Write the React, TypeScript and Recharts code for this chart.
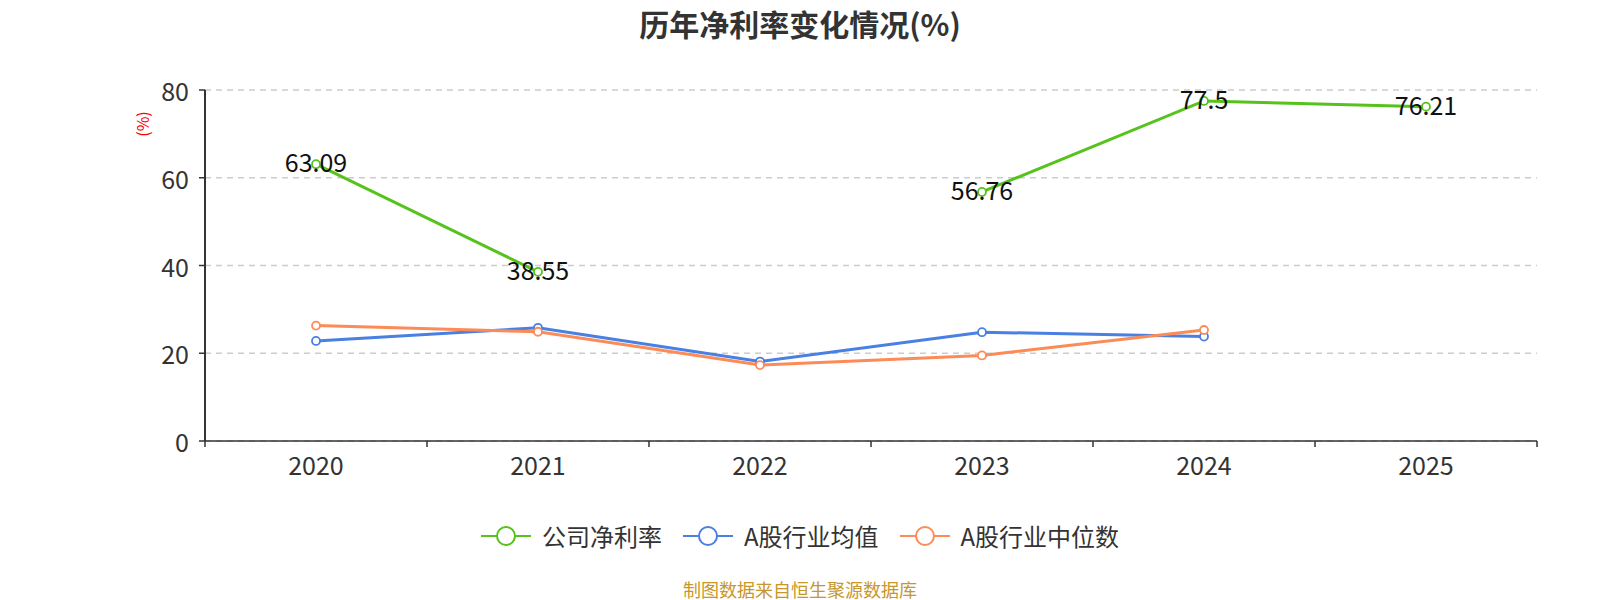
import React from 'react';
import { LineChart, Line, XAxis, YAxis, CartesianGrid, LabelList } from 'recharts';

const years = ['2020', '2021', '2022', '2023', '2024', '2025'];
const companyMargin: (number | null)[] = [63.09, 38.55, null, 56.76, 77.5, 76.21];
const industryAvg: (number | null)[] = [22.8, 25.8, 18.1, 24.8, 23.8, null];
const industryMedian: (number | null)[] = [26.3, 24.9, 17.3, 19.5, 25.3, null];
const yTicks = [0, 20, 40, 60, 80];

const seriesNames = ['公司净利率', 'A股行业均值', 'A股行业中位数'];
const seriesColors = ['#56c21c', '#4a7fe3', '#fc8b57'];

const data = years.map((y, i) => ({
  year: y,
  company: companyMargin[i],
  avg: industryAvg[i],
  median: industryMedian[i],
}));

const FONT = '"Noto Sans CJK SC", "Noto Sans", sans-serif';
const CHART_W = 1584;
const CHART_H = 584;
const MARGIN = { top: 82, right: 55, left: 137, bottom: 111 };
const Y_AXIS_W = 60;
const PLOT_W = CHART_W - MARGIN.left - MARGIN.right - Y_AXIS_W;
const HALF_BAND = PLOT_W / years.length / 2;

const XTick = (props: any) => {
  const { x, y, payload, index, visibleTicksCount } = props;
  const axisY = y - 18;
  return (
    <g>
      <line x1={x - HALF_BAND} x2={x - HALF_BAND} y1={axisY} y2={axisY + 6} stroke="#333" strokeWidth={1.5} />
      {index === visibleTicksCount - 1 && (
        <line x1={x + HALF_BAND} x2={x + HALF_BAND} y1={axisY} y2={axisY + 6} stroke="#333" strokeWidth={1.5} />
      )}
      <text x={x} y={y + 5} textAnchor="middle" dominantBaseline="central" fontSize={25} fill="#333" fontFamily={FONT}>
        {payload.value}
      </text>
    </g>
  );
};

const YTick = (props: any) => {
  const { x, y, payload } = props;
  return (
    <text x={x} y={y} textAnchor="end" dominantBaseline="central" fontSize={25} fill="#333" fontFamily={FONT}>
      {payload.value}
    </text>
  );
};

const ValueLabel = (props: any) => {
  const { x, y, value } = props;
  if (value === null || value === undefined) return null;
  return (
    <text x={x} y={y - 3} textAnchor="middle" dominantBaseline="central" fontSize={25} fill="#111" fontFamily={FONT}>
      {value}
    </text>
  );
};

const YLabel = (props: any) => {
  const { viewBox } = props;
  const cx = viewBox.x - 3;
  const cy = viewBox.y + 34;
  return (
    <text x={cx} y={cy} transform={`rotate(-90 ${cx} ${cy})`} textAnchor="middle" dominantBaseline="central" fontSize={16} fill="#ff0000" fontFamily={FONT}>
      (%)
    </text>
  );
};

const LegendIcon = ({ color }: { color: string }) => (
  <svg width={50} height={24} style={{ display: 'block' }}>
    <line x1={0} x2={50} y1={12} y2={12} stroke={color} strokeWidth={2} />
    <circle cx={25} cy={12} r={9} fill="#fff" stroke={color} strokeWidth={2} />
  </svg>
);

export default function App() {
  const keys = ['company', 'avg', 'median'];
  return (
    <div style={{ position: 'relative', width: CHART_W, height: 592, fontFamily: FONT, background: '#fff' }}>
      <style>{'html, body { overflow: hidden; }'}</style>
      <div
        style={{
          position: 'absolute', top: 0, left: 0, width: CHART_W, textAlign: 'center',
          fontSize: 30, fontWeight: 'bold', color: '#333', lineHeight: '30px',
        }}
      >
        历年净利率变化情况(%)
      </div>
      <LineChart width={CHART_W} height={CHART_H} data={data} margin={MARGIN}>
        <CartesianGrid vertical={false} stroke="#cccccc" strokeDasharray="6 5" strokeWidth={1.3} />
        <XAxis
          dataKey="year"
          height={40}
          axisLine={{ stroke: '#333', strokeWidth: 1.5 }}
          tickLine={false}
          tickSize={6}
          tickMargin={12}
          tick={<XTick />}
          interval={0}
          padding={{ left: HALF_BAND, right: HALF_BAND }}
        />
        <YAxis
          width={Y_AXIS_W}
          domain={[0, 80]}
          ticks={yTicks}
          axisLine={{ stroke: '#333', strokeWidth: 2 }}
          tickLine={{ stroke: '#333', strokeWidth: 1.5 }}
          tickSize={6}
          tickMargin={10}
          tick={<YTick />}
          label={<YLabel />}
        />
        {keys.map((k, i) => (
          <Line
            key={k}
            dataKey={k}
            type="linear"
            stroke={seriesColors[i]}
            strokeWidth={3}
            dot={{ r: 4, fill: '#fff', stroke: seriesColors[i], strokeWidth: 1.8 }}
            activeDot={false}
            isAnimationActive={false}
            connectNulls={false}
          >
            {k === 'company' && <LabelList dataKey="company" content={<ValueLabel />} />}
          </Line>
        ))}
      </LineChart>
      <div
        style={{
          position: 'absolute', top: 513, left: 0, width: CHART_W, display: 'flex',
          justifyContent: 'center', alignItems: 'center', gap: 21,
        }}
      >
        {seriesNames.map((n, i) => (
          <div key={n} style={{ display: 'flex', alignItems: 'center', gap: 11 }}>
            <LegendIcon color={seriesColors[i]} />
            <span style={{ fontSize: 24, color: '#333', lineHeight: '30px' }}>{n}</span>
          </div>
        ))}
      </div>
      <div
        style={{
          position: 'absolute', top: 571, left: 0, width: CHART_W, textAlign: 'center',
          fontSize: 18, color: '#c8962a', lineHeight: '21px',
        }}
      >
        制图数据来自恒生聚源数据库
      </div>
    </div>
  );
}
